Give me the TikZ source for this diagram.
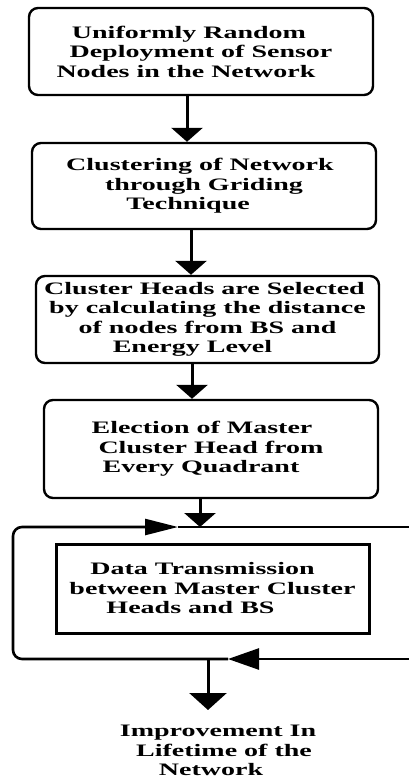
\documentclass[tikz,border=0pt]{standalone}
\usepackage{fontspec}
\newfontfamily\flowfont{Liberation Serif}[FakeStretch=1.6]
\usetikzlibrary{arrows.meta,positioning,calc}

\begin{document}
\begin{tikzpicture}[
        x=1pt, y=-1pt,
        stepbox/.style={
            draw=black,
            line width=2.4pt,
            rounded corners=9pt,
            align=center,
            inner sep=0pt,
            font=\flowfont\bfseries\fontsize{17.5}{19.5}\selectfont
        },
        databox/.style={
            draw=black,
            line width=3pt,
            align=center,
            inner sep=0pt,
            font=\flowfont\bfseries\fontsize{17.5}{19.5}\selectfont
        },
        flow/.style={draw=black, line width=3pt, -{Triangle[length=14pt,width=31pt]}},
        loopline/.style={draw=black, line width=2.6pt},
        result/.style={align=center, inner xsep=0pt, inner ysep=15pt, anchor=north, font=\flowfont\bfseries\fontsize{17.5}{19.5}\selectfont}
    ]
        \useasboundingbox (0,0) rectangle (409,779);

        \node[stepbox, minimum width=344pt, minimum height=87pt] (deploy)   at (201,51.5) {Uniformly Random\hspace*{24pt}\\Deployment of Sensor\hspace*{16pt}\\Nodes in the Network\hspace*{30pt}};
        \node[stepbox, minimum width=344pt, minimum height=86pt] (grid)     at (204,186)  {Clustering of Network\hspace*{8pt}\\through Griding\hspace*{28pt}\\Technique\hspace*{32pt}};
        \node[stepbox, minimum width=343pt, minimum height=87pt] (chsel)    at (207.5,319.5) {Cluster Heads are Selected\hspace*{6pt}\\by calculating the distance\hspace*{6pt}\\of nodes from BS and\hspace*{20pt}\\Energy Level\hspace*{30pt}};
        \node[stepbox, minimum width=334pt, minimum height=98pt] (master)   at (211,449)  {Election of Master\hspace*{18pt}\\Cluster Head from\hspace*{20pt}\\Every Quadrant\hspace*{20pt}};
        \node[databox, minimum width=313pt, minimum height=89pt] (transmit) at (212.5,588.5) {Data Transmission\hspace*{20pt}\\between Master Cluster\\Heads and BS\hspace*{44pt}};
        \node[result] (life) at (218,710) {Improvement In\\\hspace*{12pt}Lifetime of the\\Network\hspace*{14pt}};

        % feedback loop round the transmission box
        \coordinate (loopin)  at (409,659);
        \coordinate (loopout) at (409,527);
        \coordinate (loopSW)  at (13,659);
        \coordinate (loopNW)  at (13,527);
        \coordinate (back)    at (228,659);
        \coordinate (fwd)     at (178,527);
        \coordinate (join)    at (200,527);
        \coordinate (split)   at (208,659);

        \draw[loopline, -{Triangle[length=31pt,width=21pt]}] (loopin) -- (back);
        \draw[loopline, rounded corners=9pt, -{Triangle[length=33pt,width=16pt]}] (back) -- (loopSW) -- (loopNW) -- (fwd);
        \draw[loopline, line width=2pt] (fwd) -- (loopout);

        \draw[flow] ([xshift=-14pt]deploy.south) -- ([xshift=-14pt]deploy.south |- grid.north);
        \draw[flow] ([xshift=-13pt]grid.south) -- ([xshift=-13pt]grid.south |- chsel.north);
        \draw[flow] ([xshift=-15.5pt]chsel.south) -- ([xshift=-15.5pt]chsel.south |- master.north);
        \draw[flow] (master.south -| join) -- (join);
        \draw[flow, -{Triangle[length=17pt,width=37pt]}] (split) -- (split |- life.north);
    \end{tikzpicture}
\end{document}
